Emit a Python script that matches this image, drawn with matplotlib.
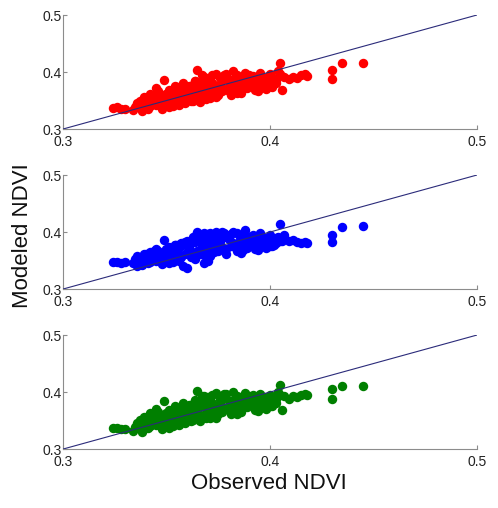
"""
observed vs modeled NDVI, three model runs
"""

import matplotlib
matplotlib.use('Agg')
import matplotlib.pyplot as plt

# observed NDVI (shared by the three panels)
observed = [
    0.324, 0.326, 0.328, 0.330,
    0.334, 0.335, 0.336, 0.337, 0.338, 0.339, 0.340, 0.341, 0.342, 0.343, 0.344, 0.345,
    0.336, 0.338, 0.340, 0.342, 0.344, 0.346,
    0.347, 0.348, 0.349, 0.350, 0.351, 0.352, 0.353, 0.354, 0.355, 0.356, 0.357, 0.358, 0.359, 0.360,
    0.348, 0.350, 0.352, 0.354, 0.356, 0.358,
    0.349, 0.351, 0.353, 0.355, 0.357,
    0.361, 0.362, 0.363, 0.364, 0.365, 0.366, 0.367, 0.368, 0.369, 0.370, 0.371, 0.372, 0.373, 0.374, 0.375,
    0.362, 0.364, 0.366, 0.368, 0.370, 0.372, 0.374,
    0.363, 0.367, 0.371,
    0.376, 0.377, 0.378, 0.379, 0.380, 0.381, 0.382, 0.383, 0.384, 0.385, 0.386, 0.387, 0.388, 0.389, 0.390,
    0.378, 0.382, 0.386,
    0.391, 0.392, 0.393, 0.394, 0.395, 0.396, 0.397, 0.398, 0.399, 0.400, 0.401, 0.402, 0.403, 0.404, 0.405, 0.406, 0.407,
    0.394, 0.398, 0.402,
    0.409, 0.411, 0.413, 0.415, 0.417, 0.418,
    0.430, 0.430, 0.435, 0.445,
    0.337, 0.339, 0.341, 0.343, 0.345, 0.346, 0.347, 0.349, 0.350, 0.351,
    0.353, 0.354, 0.355, 0.356, 0.357, 0.359, 0.360, 0.361, 0.362, 0.363,
    0.364, 0.365, 0.366, 0.367, 0.368, 0.369, 0.370, 0.371, 0.372, 0.373,
    0.375, 0.376, 0.377, 0.379, 0.380, 0.381, 0.383, 0.384, 0.385, 0.387,
    0.389, 0.390, 0.392, 0.393, 0.395, 0.397, 0.399, 0.400, 0.403, 0.405,
]

# modeled NDVI, top panel (red)
modeled_red = [
    0.337, 0.338, 0.336, 0.335,
    0.333, 0.338, 0.345, 0.350, 0.335, 0.356, 0.342, 0.340, 0.362, 0.346, 0.352, 0.372,
    0.344, 0.331, 0.354, 0.340, 0.360, 0.349,
    0.358, 0.344, 0.386, 0.351, 0.338, 0.364, 0.348, 0.370, 0.355, 0.342, 0.366, 0.352, 0.375, 0.360,
    0.336, 0.361, 0.346, 0.357, 0.345, 0.380,
    0.352, 0.368, 0.340, 0.373, 0.350,
    0.365, 0.353, 0.378, 0.360, 0.403, 0.348, 0.382, 0.357, 0.370, 0.390, 0.355, 0.375, 0.364, 0.397, 0.368,
    0.372, 0.385, 0.358, 0.392, 0.362, 0.380, 0.356,
    0.350, 0.374, 0.388,
    0.378, 0.366, 0.395, 0.370, 0.384, 0.360, 0.402, 0.374, 0.363, 0.390, 0.367, 0.381, 0.398, 0.372, 0.385,
    0.388, 0.376, 0.364,
    0.380, 0.393, 0.372, 0.386, 0.398, 0.376, 0.390, 0.370, 0.384, 0.396, 0.374, 0.388, 0.380, 0.402, 0.415, 0.368, 0.392,
    0.366, 0.378, 0.382,
    0.387, 0.392, 0.390, 0.394, 0.396, 0.393,
    0.388, 0.403, 0.416, 0.416,
    0.340, 0.347, 0.336, 0.355, 0.342, 0.366, 0.350, 0.341, 0.362, 0.355,
    0.347, 0.376, 0.360, 0.351, 0.371, 0.345, 0.368, 0.376, 0.349, 0.366,
    0.385, 0.372, 0.360, 0.394, 0.376, 0.353, 0.383, 0.365, 0.395, 0.377,
    0.360, 0.389, 0.372, 0.397, 0.367, 0.386, 0.378, 0.394, 0.369, 0.384,
    0.376, 0.394, 0.382, 0.368, 0.389, 0.380, 0.392, 0.375, 0.386, 0.396,
]

# modeled NDVI, middle panel (blue)
modeled_blue = [
    0.347, 0.348, 0.346, 0.348,
    0.345, 0.352, 0.358, 0.350, 0.343, 0.362, 0.355, 0.348, 0.365, 0.352, 0.358, 0.370,
    0.340, 0.356, 0.361, 0.347, 0.367, 0.354,
    0.364, 0.350, 0.386, 0.358, 0.345, 0.372, 0.356, 0.378, 0.362, 0.350, 0.375, 0.340, 0.382, 0.337,
    0.344, 0.368, 0.353, 0.366, 0.360, 0.380,
    0.359, 0.374, 0.348, 0.377, 0.356,
    0.370, 0.360, 0.384, 0.352, 0.400, 0.364, 0.390, 0.345, 0.378, 0.396, 0.358, 0.386, 0.372, 0.400, 0.366,
    0.380, 0.393, 0.362, 0.398, 0.350, 0.388, 0.374,
    0.356, 0.382, 0.395,
    0.384, 0.370, 0.398, 0.362, 0.390, 0.375, 0.400, 0.378, 0.366, 0.394, 0.363, 0.385, 0.403, 0.372, 0.388,
    0.392, 0.380, 0.368,
    0.378, 0.394, 0.370, 0.386, 0.398, 0.376, 0.390, 0.372, 0.384, 0.395, 0.375, 0.388, 0.380, 0.392, 0.415, 0.384, 0.395,
    0.368, 0.382, 0.378,
    0.384, 0.386, 0.382, 0.381, 0.383, 0.381,
    0.383, 0.395, 0.408, 0.410,
    0.351, 0.356, 0.346, 0.362, 0.350, 0.366, 0.357, 0.347, 0.370, 0.361,
    0.352, 0.377, 0.366, 0.354, 0.380, 0.362, 0.385, 0.375, 0.356, 0.392,
    0.382, 0.366, 0.395, 0.376, 0.360, 0.389, 0.370, 0.398, 0.383, 0.365,
    0.392, 0.378, 0.400, 0.370, 0.387, 0.396, 0.374, 0.399, 0.382, 0.368,
    0.393, 0.379, 0.387, 0.374, 0.390, 0.381, 0.386, 0.376, 0.390, 0.384,
]

# modeled NDVI, bottom panel (green)
modeled_green = [
    0.337, 0.337, 0.336, 0.335,
    0.332, 0.339, 0.346, 0.351, 0.334, 0.357, 0.343, 0.339, 0.363, 0.345, 0.353, 0.371,
    0.343, 0.330, 0.355, 0.341, 0.361, 0.348,
    0.357, 0.345, 0.385, 0.352, 0.337, 0.365, 0.349, 0.371, 0.354, 0.343, 0.367, 0.351, 0.376, 0.361,
    0.335, 0.362, 0.347, 0.356, 0.346, 0.381,
    0.351, 0.369, 0.341, 0.372, 0.349,
    0.366, 0.352, 0.379, 0.361, 0.402, 0.349, 0.383, 0.356, 0.371, 0.391, 0.354, 0.376, 0.365, 0.398, 0.367,
    0.373, 0.386, 0.357, 0.393, 0.361, 0.381, 0.355,
    0.351, 0.375, 0.389,
    0.379, 0.365, 0.396, 0.371, 0.385, 0.361, 0.401, 0.375, 0.362, 0.391, 0.368, 0.382, 0.399, 0.373, 0.386,
    0.389, 0.377, 0.365,
    0.381, 0.394, 0.373, 0.387, 0.397, 0.377, 0.391, 0.371, 0.385, 0.395, 0.375, 0.389, 0.381, 0.401, 0.412, 0.369, 0.393,
    0.367, 0.379, 0.383,
    0.388, 0.393, 0.391, 0.395, 0.396, 0.394,
    0.387, 0.405, 0.410, 0.410,
    0.341, 0.346, 0.337, 0.354, 0.343, 0.365, 0.351, 0.340, 0.363, 0.354,
    0.348, 0.375, 0.361, 0.350, 0.372, 0.346, 0.367, 0.377, 0.350, 0.365,
    0.384, 0.373, 0.359, 0.393, 0.377, 0.354, 0.382, 0.366, 0.394, 0.378,
    0.361, 0.388, 0.373, 0.396, 0.368, 0.385, 0.379, 0.393, 0.370, 0.385,
    0.377, 0.393, 0.383, 0.369, 0.390, 0.381, 0.391, 0.376, 0.387, 0.395,
]

series = [modeled_red, modeled_blue, modeled_green]
colors = ['#ff0000', '#0000ff', '#007f00']
ticks = [0.3, 0.4, 0.5]
tick_labels = ['0.3', '0.4', '0.5']

plt.rcParams['font.family'] = ['Liberation Sans', 'DejaVu Sans']

fig = plt.figure(figsize=(4.98, 5.08), dpi=100)
left, width, height = 0.1265, 0.831, 0.2244
bottoms = [0.746, 0.431, 0.116]

for modeled, color, bottom in zip(series, colors, bottoms):
    ax = fig.add_axes([left, bottom, width, height])
    ax.plot(observed, modeled, 'o', color=color, markersize=6.8,
            markeredgewidth=0, zorder=2)
    ax.plot([0.3, 0.5], [0.3, 0.5], color='#2b2b7a', lw=0.8, zorder=3)
    ax.set_xlim(0.3, 0.5)
    ax.set_ylim(0.3, 0.5)
    ax.set_xticks(ticks)
    ax.set_xticklabels(tick_labels)
    ax.set_yticks(ticks)
    ax.set_yticklabels(tick_labels)
    for side in ['top', 'right']:
        ax.spines[side].set_visible(False)
    for side in ['left', 'bottom']:
        ax.spines[side].set_color('#8c8c8c')
        ax.spines[side].set_linewidth(0.8)
    ax.tick_params(direction='in', length=3, width=0.8, color='#8c8c8c',
                   labelsize=10, labelcolor='#222222')
    ax.tick_params(axis='x', pad=4)
    ax.tick_params(axis='y', pad=1)

fig.text(0.045, 0.537, 'Modeled NDVI', rotation=90, ha='center', va='center',
         fontsize=16, color='#111111')
fig.text(0.54, 0.049, 'Observed NDVI', ha='center', va='center',
         fontsize=16, color='#111111')

fig.savefig('out.png', dpi=100)
